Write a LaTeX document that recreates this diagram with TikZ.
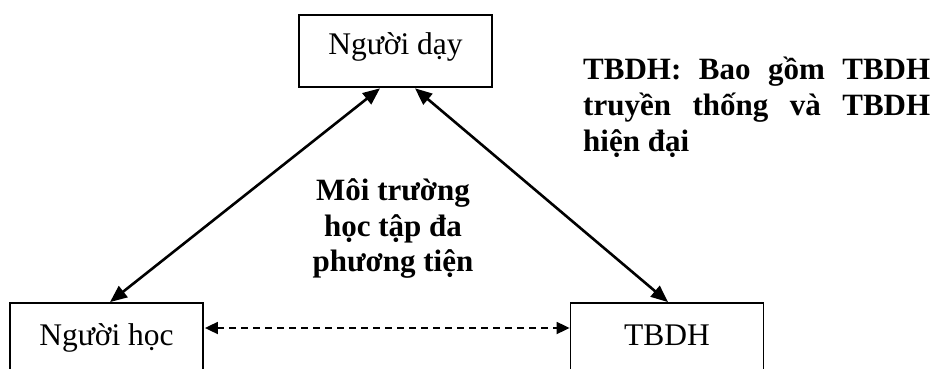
\documentclass[tikz,border=0pt]{standalone}
\usepackage{fontspec}
\setmainfont{Liberation Serif}
\usetikzlibrary{arrows.meta}

\begin{document}
\begin{tikzpicture}[x=1pt, y=-1pt,
  box/.style={draw, rectangle, inner sep=0pt, minimum width=193pt,
    font=\fontsize{31.5}{36}\selectfont},
  link/.style={line width=2.6pt, {Triangle[length=17pt, width=14pt]}-{Triangle[length=17pt, width=14pt]}},
  dlink/.style={line width=1.8pt, dash pattern=on 7pt off 5pt,
    {Triangle[length=13pt, width=12pt]}-{Triangle[length=13pt, width=12pt]}},
  note/.style={inner sep=0pt, font=\fontsize{31}{36}\selectfont\bfseries}]
\useasboundingbox (0,0) rectangle (946,369);

% the three participants
\node[box, line width=2.6pt, minimum height=72pt, text height=20pt, text depth=12pt]
  (teacher) at (395.5,51) {Người dạy};
\node[box, line width=1.8pt, minimum height=70pt, text height=20pt, text depth=6pt]
  (learner) at (106.5,338) {Người học};
\node[box, line width=1.8pt, minimum height=70pt, text height=20pt, text depth=6pt]
  (media) at (667,338) {TBDH};

% relations between them
\draw[link] ([xshift=-15.5pt]teacher.south) -- ([xshift=3.5pt]learner.north);
\draw[link] ([xshift=19.5pt]teacher.south) -- ([xshift=1pt]media.north);
\draw[dlink] ([xshift=1pt, yshift=10pt]learner.east) -- ([yshift=10pt]media.west);

% environment in the middle
\node[note, anchor=base] (env) at (393,200)
  {\parbox[t]{220pt}{\centering Môi trường\\học tập đa\\phương tiện}};

% explanation of TBDH
\node[note, anchor=base west] (legend) at (583,80)
  {\parbox[t]{347pt}{\makebox[347pt][s]{TBDH: Bao gồm TBDH}\\
   \makebox[347pt][s]{truyền thống và TBDH}\\
   hiện đại}};
\end{tikzpicture}
\end{document}
